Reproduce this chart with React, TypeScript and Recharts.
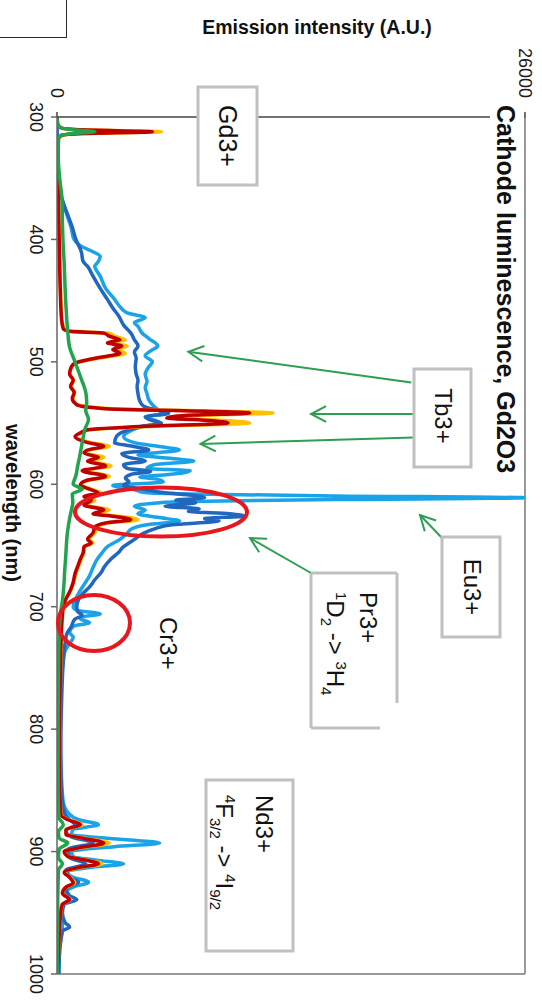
import React from 'react';
import { LineChart, Line, XAxis, YAxis, ReferenceLine } from 'recharts';

const FONT = '"Liberation Sans", Arial, Helvetica, sans-serif';

// Axis ticks
const wavelengthTicks = [300, 400, 500, 600, 700, 800, 900, 1000];
const intensityTicks = [0, 26000];

// Light blue series
const lightBlueWl = [
  300, 350, 360, 368, 380, 390, 400, 406, 410, 414,
  418, 422, 430, 440, 449, 455, 460, 464, 468, 471,
  476, 481, 487, 491, 495, 500, 504, 510, 516, 521,
  526, 531, 535, 539, 542, 545, 548, 550, 553, 557,
  561, 566, 569, 572, 576, 579, 581, 584, 587, 589,
  592, 594, 596, 598, 601, 604, 607, 608, 609.5, 611,
  612.5, 614, 615, 618, 621, 624, 627, 630, 633, 636,
  640, 645, 651, 656, 662, 668, 675, 682, 689, 695,
  700, 703, 706, 708, 710, 713, 716, 721, 725, 730,
  736, 743, 760, 800, 840, 860, 868, 874, 878, 882,
  886, 890, 893, 896, 900, 904, 907, 910, 913, 917,
  921, 925, 929, 934, 939, 943, 950, 962, 980, 1000,
];
const lightBlueI = [
  0, 20, 120, 300, 550, 780, 950, 1400, 2000, 2400,
  2300, 2100, 2400, 2700, 3200, 3500, 3900, 4900, 4300, 4500,
  4700, 5100, 5600, 5200, 4900, 5300, 5100, 4900, 5000, 4900,
  5000, 5100, 5300, 5600, 5900, 5000, 5500, 5700, 4700, 4000,
  3700, 4300, 5600, 6800, 4500, 6400, 7600, 5400, 5000, 7400,
  6200, 4600, 5600, 5900, 3100, 4200, 5000, 7500, 15500, 26000,
  15500, 7500, 5700, 4300, 4900, 4500, 5600, 6800, 5000, 4200,
  3900, 3500, 2800, 2500, 2200, 2000, 1800, 1500, 1200, 1000,
  900, 1100, 2400, 1500, 1300, 1800, 900, 700, 900, 700,
  450, 350, 250, 200, 250, 350, 600, 1200, 2300, 900,
  800, 3500, 5700, 3200, 800, 900, 2200, 3700, 1800, 600,
  900, 1750, 900, 400, 700, 300, 250, 300, 150, 100,
];

// Dark blue series
const darkBlueWl = [
  300, 345, 355, 368, 380, 390, 400, 410, 418, 422,
  430, 440, 449, 456, 463, 470, 476.5, 482, 487, 492,
  497, 503.6, 510, 515, 520, 526, 532, 536, 539, 542,
  545, 548, 550, 553, 557, 561, 566, 569, 572, 575,
  578, 581, 584, 587, 589.5, 592, 595, 598, 601, 604,
  607, 609, 611, 613, 615, 618, 620, 622, 624, 626,
  628, 630, 633, 636, 640, 645, 648, 651, 656, 661,
  667, 672, 678, 684, 689, 694, 700, 704, 707, 710,
  716, 722, 730, 745, 780, 820, 850, 868, 874, 878,
  883, 888, 893, 898, 905, 910, 915, 921, 925, 930,
  936, 939.3, 943, 950, 958, 961.6, 965, 980, 1000,
];
const darkBlueI = [
  0, 0, 100, 300, 600, 850, 1050, 1350, 1450, 1700,
  2000, 2400, 2800, 3100, 3450, 3700, 4100, 4300, 4500, 4300,
  4400, 4350, 4400, 4500, 4450, 4500, 4600, 4800, 5400, 6200,
  4900, 5300, 5800, 4600, 3700, 3300, 3200, 4200, 5100, 3600,
  4000, 4900, 3700, 3900, 5200, 4100, 3800, 4000, 3700, 4800,
  6000, 7500, 8200, 6600, 7700, 6000, 7900, 7300, 9600, 10400,
  8200, 9000, 6400, 5500, 4800, 4300, 4000, 3700, 3400, 3000,
  2650, 2450, 2100, 1800, 1450, 1200, 1100, 1150, 1400, 1000,
  800, 550, 450, 350, 250, 200, 250, 400, 700, 1000,
  500, 800, 2000, 600, 700, 1600, 500, 700, 1200, 500,
  700, 1100, 400, 300, 450, 700, 300, 150, 100,
];

// Orange and red series share one wavelength grid
const warmWl = [
  300, 306, 309, 310.5, 312, 313.5, 315, 318, 340, 370,
  400, 440, 465, 473, 475, 476.5, 479, 482, 484.5, 487,
  490, 493, 497, 501, 504, 510, 515, 520, 525, 530,
  535, 538, 541.8, 543.5, 545.8, 548, 550, 552.5, 555.5, 558,
  561, 566, 569, 572, 574.5, 578, 581, 585, 589, 593.5,
  597, 600.4, 604, 607.2, 610, 613, 617, 621, 624, 626.5,
  628.9, 631.6, 635, 639.8, 645, 648, 651, 656, 661, 667,
  673, 680, 688, 695, 700, 710, 730, 760, 800, 850,
  870, 874, 878, 882, 886, 889, 893, 897, 900, 904,
  907, 910, 913, 917, 921, 925.7, 929, 934, 939.3, 943,
  950, 1000,
];
const redI = [
  0, 40, 250, 1400, 5300, 1400, 250, 80, 50, 80,
  120, 180, 250, 350, 700, 2600, 2900, 3500, 2800, 3600,
  3100, 3500, 2100, 1000, 800, 700, 900, 750, 950, 850,
  1100, 2500, 10700, 7600, 6100, 8600, 9500, 5000, 1700, 1300,
  1000, 1700, 2600, 1700, 1500, 2300, 1700, 2700, 1400, 2700,
  1600, 1300, 1800, 2300, 1500, 1900, 1500, 2600, 2000, 3300,
  4100, 2700, 2100, 2000, 1700, 1900, 1500, 1450, 1300, 1150,
  1000, 900, 700, 450, 350, 280, 220, 180, 150, 160,
  220, 600, 1300, 500, 500, 1400, 2600, 1200, 400, 600,
  1600, 2300, 1200, 400, 700, 900, 500, 300, 700, 300,
  200, 50,
];
const orangeI = [
  0, 40, 280, 1600, 5800, 1600, 280, 80, 50, 80,
  130, 190, 270, 380, 800, 2900, 3200, 3800, 3000, 3900,
  3300, 3800, 2300, 1050, 820, 720, 920, 780, 980, 880,
  1150, 2800, 12000, 8300, 6700, 9500, 10700, 5500, 1800, 1350,
  1050, 1900, 2900, 1800, 1600, 2600, 1800, 3000, 1500, 2900,
  1700, 1350, 1900, 2500, 1600, 2100, 1600, 2900, 2200, 3700,
  4500, 2900, 2200, 2100, 1800, 2000, 1550, 1500, 1350, 1200,
  1050, 930, 720, 460, 360, 290, 230, 190, 160, 170,
  230, 650, 1400, 520, 520, 1500, 2900, 1300, 420, 630,
  1700, 2500, 1300, 420, 730, 980, 520, 310, 740, 310,
  210, 50,
];

// Green series
const greenWl = [
  300, 306, 309, 310.5, 312, 313.5, 315, 318, 330, 350,
  368, 385, 400, 420, 440, 460, 476, 488, 500, 512,
  525, 533, 540, 547, 555, 562, 570, 578, 585, 593,
  600, 604, 608, 615, 621, 628, 635, 642, 650, 660,
  670, 683, 695, 705, 720, 750, 800, 850, 872, 878,
  884, 889, 893, 898, 905, 910, 915, 925, 940, 1000,
];
const greenI = [
  0, 40, 250, 900, 2100, 900, 250, 80, 60, 150,
  280, 300, 330, 400, 450, 520, 600, 700, 1000, 1300,
  1600, 1650, 1600, 1750, 1550, 1450, 1350, 1250, 1150, 1050,
  900, 1400, 850, 880, 800, 700, 620, 560, 520, 480,
  430, 380, 300, 200, 130, 80, 60, 60, 100, 350,
  80, 120, 600, 120, 80, 300, 80, 60, 40, 20,
];

const toPoints = (wl: number[], vals: number[]) =>
  wl.slice(0, Math.min(wl.length, vals.length)).map((w, i) => ({ wl: w, v: vals[i] }));

const series = [
  { key: 'lightBlue', color: '#1ba3e8', data: toPoints(lightBlueWl, lightBlueI) },
  { key: 'darkBlue', color: '#2067bd', data: toPoints(darkBlueWl, darkBlueI) },
  { key: 'orange', color: '#ffc000', data: toPoints(warmWl, orangeI) },
  { key: 'red', color: '#c00000', data: toPoints(warmWl, redI) },
  { key: 'green', color: '#23a34b', data: toPoints(greenWl, greenI) },
];

const GREEN_ARROW = '#2e9e52';
const BOX_STROKE = '#c0c0c0';
const ELLIPSE = '#e8161d';

function Arrow({ x1, y1, x2, y2 }: { x1: number; y1: number; x2: number; y2: number }) {
  const a = Math.atan2(y2 - y1, x2 - x1);
  const L = 17;
  const s = 0.48;
  const p1 = `${x2 - L * Math.cos(a - s)},${y2 - L * Math.sin(a - s)}`;
  const p2 = `${x2 - L * Math.cos(a + s)},${y2 - L * Math.sin(a + s)}`;
  return (
    <g stroke={GREEN_ARROW} strokeWidth={2} fill="none">
      <line x1={x1} y1={y1} x2={x2} y2={y2} />
      <polyline points={`${p1} ${x2},${y2} ${p2}`} />
    </g>
  );
}

function Overlay() {
  const txt = { fontFamily: FONT, fill: '#111' } as const;
  return (
    <svg
      width={1000}
      height={542}
      style={{ position: 'absolute', left: 0, top: 0, pointerEvents: 'none', overflow: 'visible' }}
    >
      {/* chart title */}
      <rect x={100} y={18} width={378} height={34} fill="#fff" />
      <text x={105} y={45} fontSize={25} fontWeight="bold" {...txt}>
        Cathode luminescence, Gd2O3
      </text>

      {/* axis titles */}
      <text
        x={33.5}
        y={225}
        transform="rotate(-90 33.5 225)"
        textAnchor="middle"
        fontSize={19.5}
        fontWeight="bold"
        {...txt}
      >
        Emission intensity (A.U.)
      </text>
      <text x={503} y={536} textAnchor="middle" fontSize={20} fontWeight="bold" {...txt}>
        wavelength (nm)
      </text>

      {/* Gd3+ */}
      <rect x={87} y={285} width={98} height={59} fill="#fff" stroke={BOX_STROKE} strokeWidth={3} />
      <text x={136} y={323} textAnchor="middle" fontSize={25} {...txt}>Gd3+</text>

      {/* Tb3+ */}
      <Arrow x1={382.5} y1={130.7} x2={351.7} y2={353.6} />
      <Arrow x1={414} y1={129} x2={414} y2={231} />
      <Arrow x1={437.5} y1={129} x2={444} y2={341.5} />
      <rect x={369} y={71} width={98} height={57} fill="#fff" stroke={BOX_STROKE} strokeWidth={3} />
      <text x={416} y={107} textAnchor="middle" fontSize={24} {...txt}>Tb3+</text>

      {/* Eu3+ */}
      <Arrow x1={538} y1={100} x2={515} y2={122} />
      <rect x={537} y={42} width={100} height={58} fill="#fff" stroke={BOX_STROKE} strokeWidth={3} />
      <text x={587} y={78} textAnchor="middle" fontSize={24} {...txt}>Eu3+</text>

      {/* Pr3+ */}
      <Arrow x1={573} y1={231} x2={538} y2={292} />
      <rect x={573} y={145} width={155} height={86} fill="#fff" />
      <g stroke={BOX_STROKE} strokeWidth={3} fill="none">
        <line x1={573} y1={145} x2={573} y2={231} />
        <line x1={573} y1={231} x2={728} y2={231} />
        <line x1={573} y1={145} x2={703} y2={145} />
        <line x1={728} y1={162} x2={728} y2={231} />
      </g>
      <text x={592} y={182} fontSize={24} {...txt}>Pr3+</text>
      <text x={592} y={215} fontSize={24} {...txt}>
        <tspan fontSize={15} dy={-9}>1</tspan>
        <tspan dy={9}>D</tspan>
        <tspan fontSize={15} dy={6}>2</tspan>
        <tspan dy={-6}>{' -> '}</tspan>
        <tspan fontSize={15} dy={-9}>3</tspan>
        <tspan dy={9}>H</tspan>
        <tspan fontSize={15} dy={6}>4</tspan>
      </text>

      {/* Cr3+ */}
      <text x={617} y={382} fontSize={24} {...txt}>Cr3+</text>

      {/* Nd3+ */}
      <rect x={780} y={249} width={171} height={87} fill="#fff" stroke={BOX_STROKE} strokeWidth={3} />
      <text x={795} y={286} fontSize={24} {...txt}>Nd3+</text>
      <text x={795} y={326} fontSize={24} {...txt}>
        <tspan fontSize={15} dy={-9}>4</tspan>
        <tspan dy={9}>F</tspan>
        <tspan fontSize={15} dy={6}>3/2</tspan>
        <tspan dy={-6}>{' -> '}</tspan>
        <tspan fontSize={15} dy={-9}>4</tspan>
        <tspan dy={9}>I</tspan>
        <tspan fontSize={15} dy={6}>9/2</tspan>
      </text>

      {/* red ellipses */}
      <ellipse cx={512} cy={381} rx={24.5} ry={86} fill="none" stroke={ELLIPSE} strokeWidth={4} />
      <ellipse cx={623} cy={448} rx={28} ry={36} fill="none" stroke={ELLIPSE} strokeWidth={4} />
    </svg>
  );
}

export default function App() {
  return (
    <div
      style={{
        position: 'absolute',
        left: 0,
        top: 0,
        width: 542,
        height: 1000,
        overflow: 'hidden',
        background: '#fff',
      }}
    >
      <div
        style={{
          position: 'absolute',
          left: -2,
          top: -2,
          width: 69,
          height: 40,
          border: '1.5px solid #2a2a2a',
          boxSizing: 'border-box',
        }}
      />
      <div
        style={{
          position: 'absolute',
          left: 0,
          top: 0,
          width: 1000,
          height: 542,
          transformOrigin: '0 0',
          transform: 'translate(542px, 0px) rotate(90deg)',
        }}
      >
        <LineChart width={1000} height={542} margin={{ top: 17, right: 26, bottom: 0, left: 0 }}>
          <XAxis
            type="number"
            dataKey="wl"
            domain={[300, 1000]}
            ticks={wavelengthTicks}
            interval={0}
            height={57}
            tickSize={6}
            tickMargin={8}
            stroke="#666"
            strokeWidth={1.5}
            tick={{ fontSize: 18, fill: '#1a1a1a', fontFamily: FONT }}
            allowDataOverflow
          />
          <YAxis
            type="number"
            domain={[0, 26000]}
            ticks={intensityTicks}
            interval={0}
            width={117}
            tickSize={5}
            tickMargin={14}
            stroke="#444"
            strokeWidth={1.5}
            tick={{ fontSize: 18, fill: '#1a1a1a', fontFamily: FONT }}
            allowDataOverflow
          />
          <ReferenceLine x={1000} stroke="#999" strokeWidth={2} />
          <ReferenceLine y={26000} stroke="#999" strokeWidth={2} />
          {series.map((s) => (
            <Line
              key={s.key}
              data={s.data}
              dataKey="v"
              type="monotone"
              stroke={s.color}
              strokeWidth={3.5}
              dot={false}
              activeDot={false}
              isAnimationActive={false}
            />
          ))}
        </LineChart>
        <Overlay />
      </div>
    </div>
  );
}
